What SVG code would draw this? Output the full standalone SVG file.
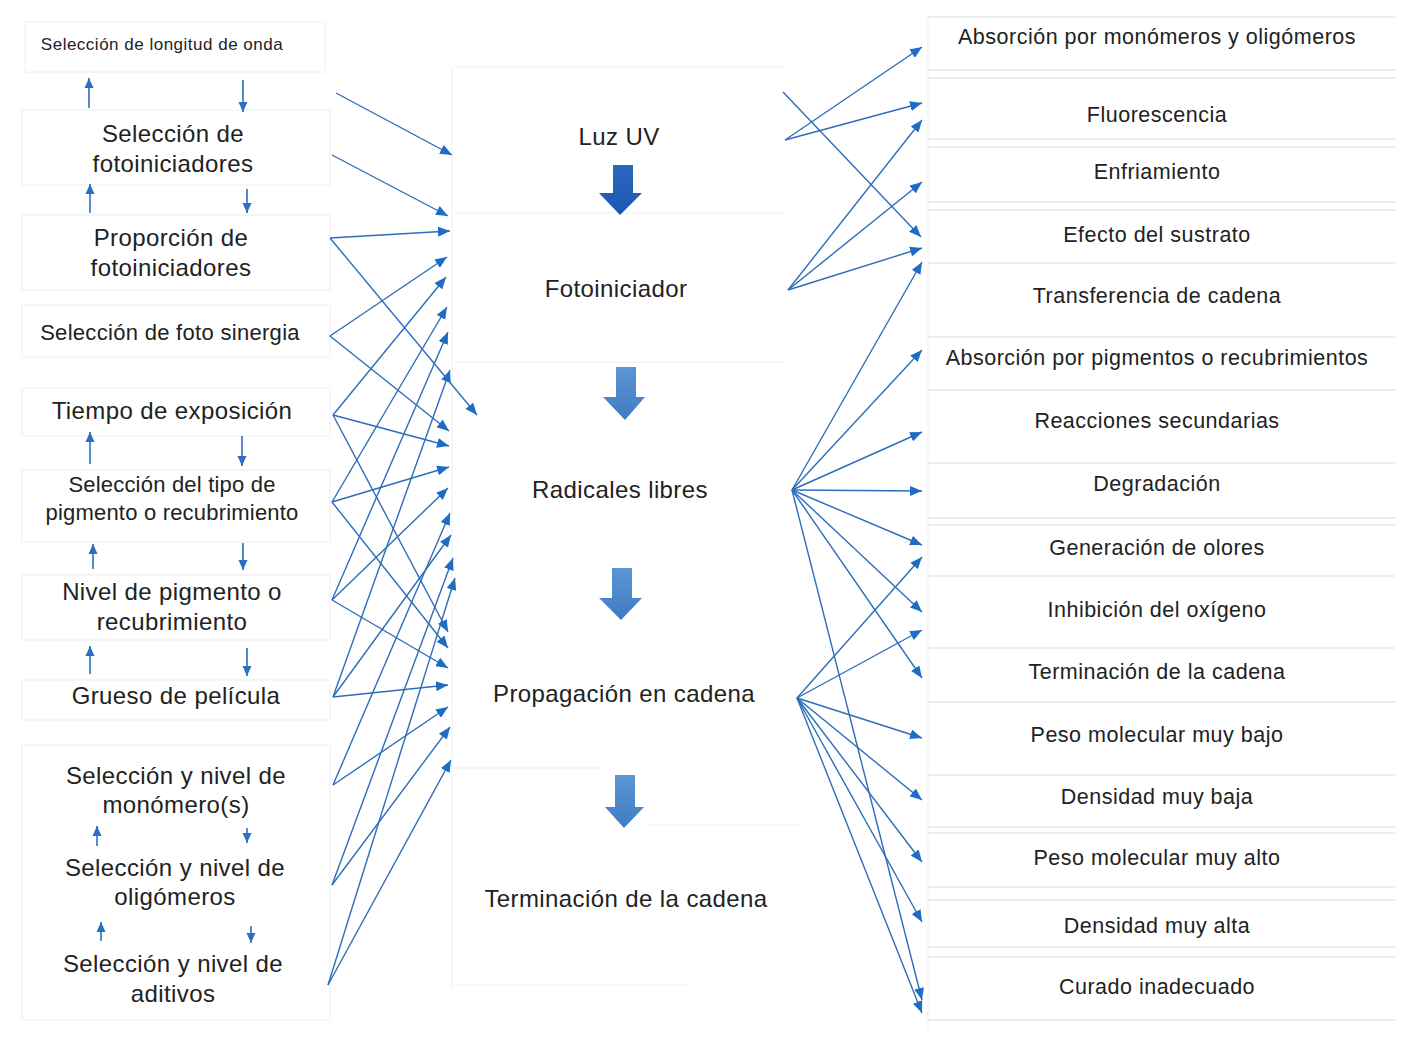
<svg xmlns="http://www.w3.org/2000/svg" width="1404" height="1038" viewBox="0 0 1404 1038">
<defs>
<marker id="ah" markerUnits="userSpaceOnUse" markerWidth="13" markerHeight="10" refX="12" refY="5" orient="auto">
<path d="M0,0 L12,5 L0,10 z" fill="#1f6cc4"/>
</marker>
<marker id="sh" markerUnits="userSpaceOnUse" markerWidth="11" markerHeight="10" refX="10" refY="5" orient="auto">
<path d="M0,0.5 L10,5 L0,9.5 z" fill="#2a6fc2"/>
</marker>
<linearGradient id="g1" x1="0" y1="0" x2="0" y2="1">
<stop offset="0" stop-color="#2a68c0"/><stop offset="1" stop-color="#1c56b0"/>
</linearGradient>
<linearGradient id="g2" x1="0" y1="0" x2="0" y2="1">
<stop offset="0" stop-color="#5d95d2"/><stop offset="1" stop-color="#3d7cc4"/>
</linearGradient>
</defs>
<style>
text{font-family:"Liberation Sans",Arial,sans-serif;fill:#222;text-anchor:middle}
.l{font-size:24px;letter-spacing:0.4px}
.m{font-size:24px;letter-spacing:0.4px}
.r{font-size:21.5px;letter-spacing:0.5px}
.sep{stroke:#e6e8e6;stroke-width:1.5}
.fb{fill:none;stroke:#f4f4f4;stroke-width:1.5}
.c{stroke:#2d6dba;stroke-width:1.4;fill:none;marker-end:url(#ah)}
.v{stroke:#2a6fc2;stroke-width:1.6;fill:none;marker-end:url(#sh)}
</style>
<rect width="1404" height="1038" fill="#ffffff"/>

<!-- faint background panels -->
<g id="panels">
<rect class="fb" x="25" y="22" width="300" height="50"/>
<rect class="fb" x="22" y="110" width="308" height="75"/>
<rect class="fb" x="22" y="215" width="308" height="75"/>
<rect class="fb" x="22" y="305" width="308" height="52"/>
<rect class="fb" x="22" y="388" width="308" height="48"/>
<rect class="fb" x="22" y="470" width="308" height="72"/>
<rect class="fb" x="22" y="575" width="308" height="65"/>
<rect class="fb" x="22" y="680" width="308" height="40"/>
<rect class="fb" x="22" y="745" width="308" height="275"/>
<line class="fb" x1="455" y1="67" x2="785" y2="67"/>
<line class="fb" x1="455" y1="213" x2="785" y2="213"/>
<line class="fb" x1="455" y1="362" x2="785" y2="362"/>
<line class="fb" x1="455" y1="768" x2="605" y2="768"/>
<line class="fb" x1="650" y1="825" x2="800" y2="825"/>
<line class="fb" x1="455" y1="985" x2="690" y2="985"/>
<line class="fb" x1="452" y1="67" x2="452" y2="990"/>
<line class="fb" x1="928" y1="15" x2="928" y2="1030"/>
<line class="sep" x1="928" y1="17" x2="1395" y2="17"/>
<line class="sep" x1="928" y1="70" x2="1395" y2="70"/>
<line class="sep" x1="928" y1="78" x2="1395" y2="78"/>
<line class="sep" x1="928" y1="139" x2="1395" y2="139"/>
<line class="sep" x1="928" y1="147" x2="1395" y2="147"/>
<line class="sep" x1="928" y1="202" x2="1395" y2="202"/>
<line class="sep" x1="928" y1="210" x2="1395" y2="210"/>
<line class="sep" x1="928" y1="263" x2="1395" y2="263"/>
<line class="sep" x1="928" y1="337" x2="1395" y2="337"/>
<line class="sep" x1="928" y1="390" x2="1395" y2="390"/>
<line class="sep" x1="928" y1="463" x2="1395" y2="463"/>
<line class="sep" x1="928" y1="518" x2="1395" y2="518"/>
<line class="sep" x1="928" y1="525" x2="1395" y2="525"/>
<line class="sep" x1="928" y1="576" x2="1395" y2="576"/>
<line class="sep" x1="928" y1="648" x2="1395" y2="648"/>
<line class="sep" x1="928" y1="702" x2="1395" y2="702"/>
<line class="sep" x1="928" y1="775" x2="1395" y2="775"/>
<line class="sep" x1="928" y1="827" x2="1395" y2="827"/>
<line class="sep" x1="928" y1="833" x2="1395" y2="833"/>
<line class="sep" x1="928" y1="887" x2="1395" y2="887"/>
<line class="sep" x1="928" y1="900" x2="1395" y2="900"/>
<line class="sep" x1="928" y1="947" x2="1395" y2="947"/>
<line class="sep" x1="928" y1="957" x2="1395" y2="957"/>
<line class="sep" x1="928" y1="1020" x2="1395" y2="1020"/>
</g>

<!-- left nodes -->
<g id="n-longitud"><text x="162" y="50" style="font-size:17px;letter-spacing:0.5px">Selección de longitud de onda</text></g>
<g id="n-selfoto"><text class="l" x="173" y="142">Selección de</text><text class="l" x="173" y="172">fotoiniciadores</text></g>
<g id="n-propfoto"><text class="l" x="171" y="246">Proporción de</text><text class="l" x="171" y="276">fotoiniciadores</text></g>
<g id="n-sinergia"><text x="170" y="340" style="font-size:22px;letter-spacing:0.3px">Selección de foto sinergia</text></g>
<g id="n-tiempo"><text class="l" x="172" y="419">Tiempo de exposición</text></g>
<g id="n-tipo"><text x="172" y="492" style="font-size:22px;letter-spacing:0.2px">Selección del tipo de</text><text x="172" y="520" style="font-size:22px;letter-spacing:0.2px">pigmento o recubrimiento</text></g>
<g id="n-nivel"><text class="l" x="172" y="600">Nivel de pigmento o</text><text class="l" x="172" y="630">recubrimiento</text></g>
<g id="n-grueso"><text class="l" x="176" y="704">Grueso de película</text></g>
<g id="n-monomero"><text class="l" x="176" y="784">Selección y nivel de</text><text class="l" x="176" y="813">monómero(s)</text></g>
<g id="n-oligomero"><text class="l" x="175" y="876">Selección y nivel de</text><text class="l" x="175" y="905">oligómeros</text></g>
<g id="n-aditivos"><text class="l" x="173" y="972">Selección y nivel de</text><text class="l" x="173" y="1002">aditivos</text></g>

<!-- middle nodes -->
<g id="n-luz"><text class="m" x="619" y="145">Luz UV</text></g>
<g id="n-fotoiniciador"><text class="m" x="616" y="297">Fotoiniciador</text></g>
<g id="n-radicales"><text class="m" x="620" y="498">Radicales libres</text></g>
<g id="n-propagacion"><text class="m" x="624" y="702">Propagación en cadena</text></g>
<g id="n-terminacion"><text class="m" x="626" y="907">Terminación de la cadena</text></g>

<!-- right nodes -->
<g id="r1"><text class="r" x="1157" y="44">Absorción por monómeros y oligómeros</text></g>
<g id="r2"><text class="r" x="1157" y="122">Fluorescencia</text></g>
<g id="r3"><text class="r" x="1157" y="179">Enfriamiento</text></g>
<g id="r4"><text class="r" x="1157" y="242">Efecto del sustrato</text></g>
<g id="r5"><text class="r" x="1157" y="303">Transferencia de cadena</text></g>
<g id="r6"><text class="r" x="1157" y="365">Absorción por pigmentos o recubrimientos</text></g>
<g id="r7"><text class="r" x="1157" y="428">Reacciones secundarias</text></g>
<g id="r8"><text class="r" x="1157" y="491">Degradación</text></g>
<g id="r9"><text class="r" x="1157" y="555">Generación de olores</text></g>
<g id="r10"><text class="r" x="1157" y="617">Inhibición del oxígeno</text></g>
<g id="r11"><text class="r" x="1157" y="679">Terminación de la cadena</text></g>
<g id="r12"><text class="r" x="1157" y="742">Peso molecular muy bajo</text></g>
<g id="r13"><text class="r" x="1157" y="804">Densidad muy baja</text></g>
<g id="r14"><text class="r" x="1157" y="865">Peso molecular muy alto</text></g>
<g id="r15"><text class="r" x="1157" y="933">Densidad muy alta</text></g>
<g id="r16"><text class="r" x="1157" y="994">Curado inadecuado</text></g>

<!-- big flow arrows -->
<g id="flow">
<path d="M613,165 H633 V193 H642 L620,215 L599,193 H613 Z" fill="url(#g1)"/>
<path d="M616,367 H636 V397 H645 L625,420 L603,397 H616 Z" fill="url(#g2)"/>
<path d="M612,568 H632 V598 H642 L621,620 L599,598 H612 Z" fill="url(#g2)"/>
<path d="M615,775 H635 V807 H644 L624,828 L605,807 H615 Z" fill="url(#g2)"/>
</g>

<!-- small vertical arrows on left -->
<g id="updown">
<line class="v" x1="89" y1="108" x2="89" y2="78"/>
<line class="v" x1="243" y1="80" x2="243" y2="112"/>
<line class="v" x1="90" y1="213" x2="90" y2="184"/>
<line class="v" x1="247" y1="189" x2="247" y2="213"/>
<line class="v" x1="90" y1="464" x2="90" y2="432"/>
<line class="v" x1="242" y1="436" x2="242" y2="466"/>
<line class="v" x1="93" y1="569" x2="93" y2="544"/>
<line class="v" x1="243" y1="543" x2="243" y2="570"/>
<line class="v" x1="90" y1="674" x2="90" y2="646"/>
<line class="v" x1="247" y1="648" x2="247" y2="676"/>
<line class="v" x1="97" y1="846" x2="97" y2="826"/>
<line class="v" x1="247" y1="828" x2="247" y2="843"/>
<line class="v" x1="101" y1="941" x2="101" y2="922"/>
<line class="v" x1="251" y1="926" x2="251" y2="943"/>
</g>

<!-- connectors -->
<g id="connectors">
<line class="c" x1="336" y1="93" x2="452" y2="155"/>
<line class="c" x1="332" y1="155" x2="448" y2="216"/>
<line class="c" x1="330" y1="238" x2="450" y2="231"/>
<line class="c" x1="330" y1="238" x2="477" y2="415"/>
<line class="c" x1="330" y1="336" x2="447" y2="257"/>
<line class="c" x1="330" y1="336" x2="449" y2="431"/>
<line class="c" x1="333" y1="415" x2="446" y2="277"/>
<line class="c" x1="333" y1="415" x2="449" y2="446"/>
<line class="c" x1="333" y1="415" x2="448" y2="632"/>
<line class="c" x1="332" y1="502" x2="447" y2="307"/>
<line class="c" x1="332" y1="502" x2="449" y2="467"/>
<line class="c" x1="332" y1="502" x2="448" y2="648"/>
<line class="c" x1="332" y1="600" x2="448" y2="332"/>
<line class="c" x1="332" y1="600" x2="448" y2="488"/>
<line class="c" x1="332" y1="600" x2="448" y2="668"/>
<line class="c" x1="333" y1="697" x2="450" y2="370"/>
<line class="c" x1="333" y1="697" x2="451" y2="535"/>
<line class="c" x1="333" y1="697" x2="448" y2="685"/>
<line class="c" x1="333" y1="785" x2="450" y2="513"/>
<line class="c" x1="333" y1="785" x2="448" y2="707"/>
<line class="c" x1="332" y1="885" x2="453" y2="558"/>
<line class="c" x1="332" y1="885" x2="450" y2="727"/>
<line class="c" x1="328" y1="985" x2="455" y2="578"/>
<line class="c" x1="328" y1="985" x2="451" y2="760"/>

<line class="c" x1="783" y1="92" x2="921" y2="237"/>
<line class="c" x1="785" y1="140" x2="922" y2="47"/>
<line class="c" x1="785" y1="140" x2="922" y2="103"/>
<line class="c" x1="788" y1="290" x2="922" y2="120"/>
<line class="c" x1="788" y1="290" x2="922" y2="182"/>
<line class="c" x1="788" y1="290" x2="922" y2="248"/>
<line class="c" x1="792" y1="490" x2="922" y2="262"/>
<line class="c" x1="792" y1="490" x2="922" y2="350"/>
<line class="c" x1="792" y1="490" x2="922" y2="432"/>
<line class="c" x1="792" y1="490" x2="922" y2="491"/>
<line class="c" x1="792" y1="490" x2="922" y2="545"/>
<line class="c" x1="792" y1="490" x2="922" y2="612"/>
<line class="c" x1="792" y1="490" x2="922" y2="678"/>
<line class="c" x1="792" y1="490" x2="922" y2="1000"/>
<line class="c" x1="797" y1="698" x2="922" y2="557"/>
<line class="c" x1="797" y1="698" x2="922" y2="630"/>
<line class="c" x1="797" y1="698" x2="922" y2="738"/>
<line class="c" x1="797" y1="698" x2="922" y2="800"/>
<line class="c" x1="797" y1="698" x2="922" y2="862"/>
<line class="c" x1="797" y1="698" x2="922" y2="922"/>
<line class="c" x1="797" y1="698" x2="922" y2="1013"/>
</g>
</svg>
